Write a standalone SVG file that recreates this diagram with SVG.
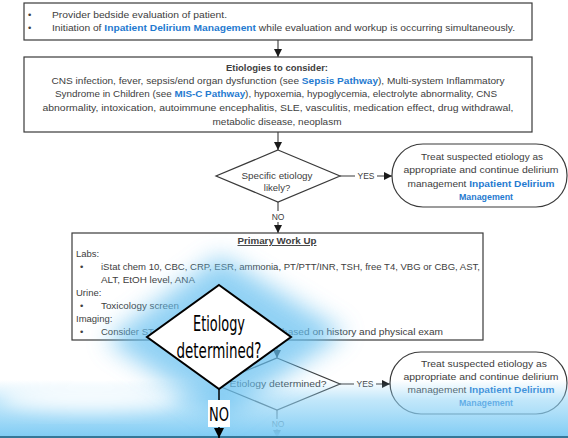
<svg xmlns="http://www.w3.org/2000/svg" width="568" height="438" viewBox="0 0 568 438">
  <style>
    .box { fill: #ffffff; stroke: #3a3a3a; stroke-width: 1.2; }
    .t { font-family: "Liberation Sans", Arial, sans-serif; font-size: 9.5px; fill: #404040; }
    .c { text-anchor: middle; }
    .b { font-weight: bold; }
    .lnk { fill: #1f7ad0; font-weight: bold; }
    .edge { stroke: #3a3a3a; stroke-width: 1.1; fill: none; }
    .lbl { font-family: "Liberation Sans", Arial, sans-serif; font-size: 8.5px; fill: #404040; text-anchor: middle; }
    .big { font-family: "Liberation Sans Narrow", "DejaVu Sans Condensed", "Liberation Sans", sans-serif; fill: #000000; text-anchor: middle; }
  </style>
  <defs>
    <marker id="arr" markerUnits="userSpaceOnUse" markerWidth="8" markerHeight="8" refX="8" refY="4" orient="auto">
      <path d="M0,0 L8,4 L0,8 z" fill="#1a1a1a"/>
    </marker>
    <marker id="arrBig" markerUnits="userSpaceOnUse" markerWidth="10" markerHeight="10" refX="10" refY="5" orient="auto">
      <path d="M0,0 L10,5 L0,10 z" fill="#000000"/>
    </marker>
    <filter id="soft" x="-50%" y="-50%" width="200%" height="200%">
      <feGaussianBlur stdDeviation="12"/>
    </filter>
    <filter id="softer" x="-50%" y="-50%" width="200%" height="200%">
      <feGaussianBlur stdDeviation="9"/>
    </filter>
    <linearGradient id="band" x1="0" y1="0" x2="0" y2="1">
      <stop offset="0" stop-color="#8fd3f6" stop-opacity="0"/>
      <stop offset="0.35" stop-color="#8fd3f6" stop-opacity="0.55"/>
      <stop offset="1" stop-color="#7ecbf4" stop-opacity="1"/>
    </linearGradient>
  </defs>

  <rect width="568" height="438" fill="#ffffff"/>

  <!-- connectors -->
  <g id="connectors">
    <line class="edge" x1="278" y1="40" x2="278" y2="57" marker-end="url(#arr)"/>
    <line class="edge" x1="278" y1="132" x2="278" y2="150" marker-end="url(#arr)"/>
    <line class="edge" x1="340" y1="176" x2="392" y2="176" marker-end="url(#arr)"/>
    <rect x="355" y="170" width="22" height="11" fill="#ffffff"/>
    <text class="lbl" x="366" y="179">YES</text>
    <line class="edge" x1="278" y1="202" x2="278" y2="233" marker-end="url(#arr)"/>
    <rect x="268" y="211" width="20" height="11" fill="#ffffff"/>
    <text class="lbl" x="278" y="220">NO</text>
    <line class="edge" x1="277" y1="340" x2="277" y2="358" marker-end="url(#arr)"/>
    <line class="edge" x1="340" y1="384" x2="390" y2="384" marker-end="url(#arr)"/>
    <rect x="354" y="378" width="22" height="11" fill="#ffffff"/>
    <text class="lbl" x="365" y="387">YES</text>
    <line class="edge" x1="277" y1="410" x2="277" y2="438" marker-end="url(#arr)"/>
    <rect x="268" y="419" width="20" height="10" fill="#ffffff"/>
    <text class="lbl" x="278" y="427">NO</text>
  </g>

  <!-- bedside evaluation -->
  <g id="start">
    <rect class="box" x="24" y="3" width="508" height="37"/>
    <text class="t" x="28" y="18">•</text>
    <text class="t" x="52" y="18" textLength="175" lengthAdjust="spacingAndGlyphs">Provider bedside evaluation of patient.</text>
    <text class="t" x="28" y="31">•</text>
    <text class="t" x="52" y="31" textLength="463" lengthAdjust="spacingAndGlyphs">Initiation of <tspan class="lnk">Inpatient Delirium Management</tspan> while evaluation and workup is occurring simultaneously.</text>
  </g>

  <!-- etiologies -->
  <g id="etiologies">
    <rect class="box" x="24" y="57" width="508" height="75"/>
    <text class="t c b" x="277" y="71" textLength="102" lengthAdjust="spacingAndGlyphs">Etiologies to consider:</text>
    <text class="t c" x="278" y="84" textLength="453" lengthAdjust="spacingAndGlyphs">CNS infection, fever, sepsis/end organ dysfunction (see <tspan class="lnk">Sepsis Pathway</tspan>), Multi-system Inflammatory</text>
    <text class="t c" x="276" y="97" textLength="442" lengthAdjust="spacingAndGlyphs">Syndrome in Children (see <tspan class="lnk">MIS-C Pathway</tspan>), hypoxemia, hypoglycemia, electrolyte abnormality, CNS</text>
    <text class="t c" x="278" y="111" textLength="471" lengthAdjust="spacingAndGlyphs">abnormality, intoxication, autoimmune encephalitis, SLE, vasculitis, medication effect, drug withdrawal,</text>
    <text class="t c" x="277" y="125" textLength="129" lengthAdjust="spacingAndGlyphs">metabolic disease, neoplasm</text>
  </g>

  <!-- specific etiology decision -->
  <g id="specific">
    <polygon class="box" points="278,150 340,176 278,202 216,176"/>
    <text class="t c" x="277" y="179" textLength="71" lengthAdjust="spacingAndGlyphs">Specific etiology</text>
    <text class="t c" x="277" y="191">likely?</text>
  </g>

  <!-- treat (first) -->
  <g id="treat1">
    <rect class="box" x="392" y="144" width="175" height="63" rx="31" ry="31"/>
    <text class="t c" x="482" y="160" textLength="122" lengthAdjust="spacingAndGlyphs">Treat suspected etiology as</text>
    <text class="t c" x="481" y="173" textLength="155" lengthAdjust="spacingAndGlyphs">appropriate and continue delirium</text>
    <text class="t c" x="481" y="187" textLength="147" lengthAdjust="spacingAndGlyphs">management <tspan class="lnk">Inpatient Delirium</tspan></text>
    <text class="t c lnk" x="486" y="200" textLength="54" lengthAdjust="spacingAndGlyphs">Management</text>
  </g>

  <!-- primary work up -->
  <g id="workup">
    <rect class="box" x="72" y="233" width="411" height="107"/>
    <text class="t c b" x="277" y="244" textLength="79" lengthAdjust="spacingAndGlyphs" text-decoration="underline">Primary Work Up</text>
    <text class="t" x="76" y="257">Labs:</text>
    <text class="t" x="80" y="270">•</text>
    <text class="t" x="101" y="270" textLength="379" lengthAdjust="spacingAndGlyphs">iStat chem 10, CBC, CRP, ESR, ammonia, PT/PTT/INR, TSH, free T4, VBG or CBG, AST,</text>
    <text class="t" x="101" y="283" textLength="94" lengthAdjust="spacingAndGlyphs">ALT, EtOH level, ANA</text>
    <text class="t" x="76" y="296">Urine:</text>
    <text class="t" x="80" y="309">•</text>
    <text class="t" x="101" y="309" textLength="78" lengthAdjust="spacingAndGlyphs">Toxicology screen</text>
    <text class="t" x="76" y="322">Imaging:</text>
    <text class="t" x="80" y="335">•</text>
    <text class="t" x="101" y="335">Consider ST</text>
    <text class="t" x="282" y="335" textLength="161" lengthAdjust="spacingAndGlyphs">based on history and physical exam</text>
  </g>

  <!-- etiology determined decision -->
  <g id="determined">
    <polygon class="box" points="277,358 340,384 277,410 214,384"/>
    <text class="t c" x="278" y="387" textLength="97" lengthAdjust="spacingAndGlyphs">Etiology determined?</text>
  </g>

  <!-- treat (second) -->
  <g id="treat2">
    <rect class="box" x="390" y="352" width="177" height="62" rx="31" ry="31"/>
    <text class="t c" x="484" y="367" textLength="126" lengthAdjust="spacingAndGlyphs">Treat suspected etiology as</text>
    <text class="t c" x="481" y="380" textLength="155" lengthAdjust="spacingAndGlyphs">appropriate and continue delirium</text>
    <text class="t c" x="481" y="393" textLength="147" lengthAdjust="spacingAndGlyphs">management <tspan class="lnk">Inpatient Delirium</tspan></text>
    <text class="t c lnk" x="486" y="406" textLength="54" lengthAdjust="spacingAndGlyphs">Management</text>
  </g>

  <!-- light blue glow and lower band -->
  <g id="glow">
    <rect x="0" y="380" width="568" height="58" fill="url(#band)"/>
    <ellipse cx="90" cy="398" rx="90" ry="13" fill="#ffffff" opacity="0.9" filter="url(#softer)"/>
    <polygon points="220,256 345,333 222,418 106,340" fill="#66c0f0" opacity="0.72" filter="url(#soft)"/>
    <line x1="0" y1="437" x2="568" y2="437" stroke="#1d5b7a" stroke-width="1.5"/>
  </g>

  <!-- highlighted decision -->
  <g id="focus">
    <polygon points="219,285 291,337 219,389 147,337" fill="#ffffff" stroke="#000000" stroke-width="2"/>
    <text class="big" x="219" y="331" font-size="22" textLength="52" lengthAdjust="spacingAndGlyphs">Etiology</text>
    <text class="big" x="219" y="358" font-size="22" textLength="85" lengthAdjust="spacingAndGlyphs">determined?</text>
    <line x1="219" y1="389" x2="219" y2="438" stroke="#000000" stroke-width="1.5" marker-end="url(#arrBig)"/>
    <rect x="208" y="400" width="22" height="27" fill="#ffffff"/>
    <text class="big" x="219" y="421" font-size="20" textLength="20" lengthAdjust="spacingAndGlyphs">NO</text>
  </g>
</svg>
